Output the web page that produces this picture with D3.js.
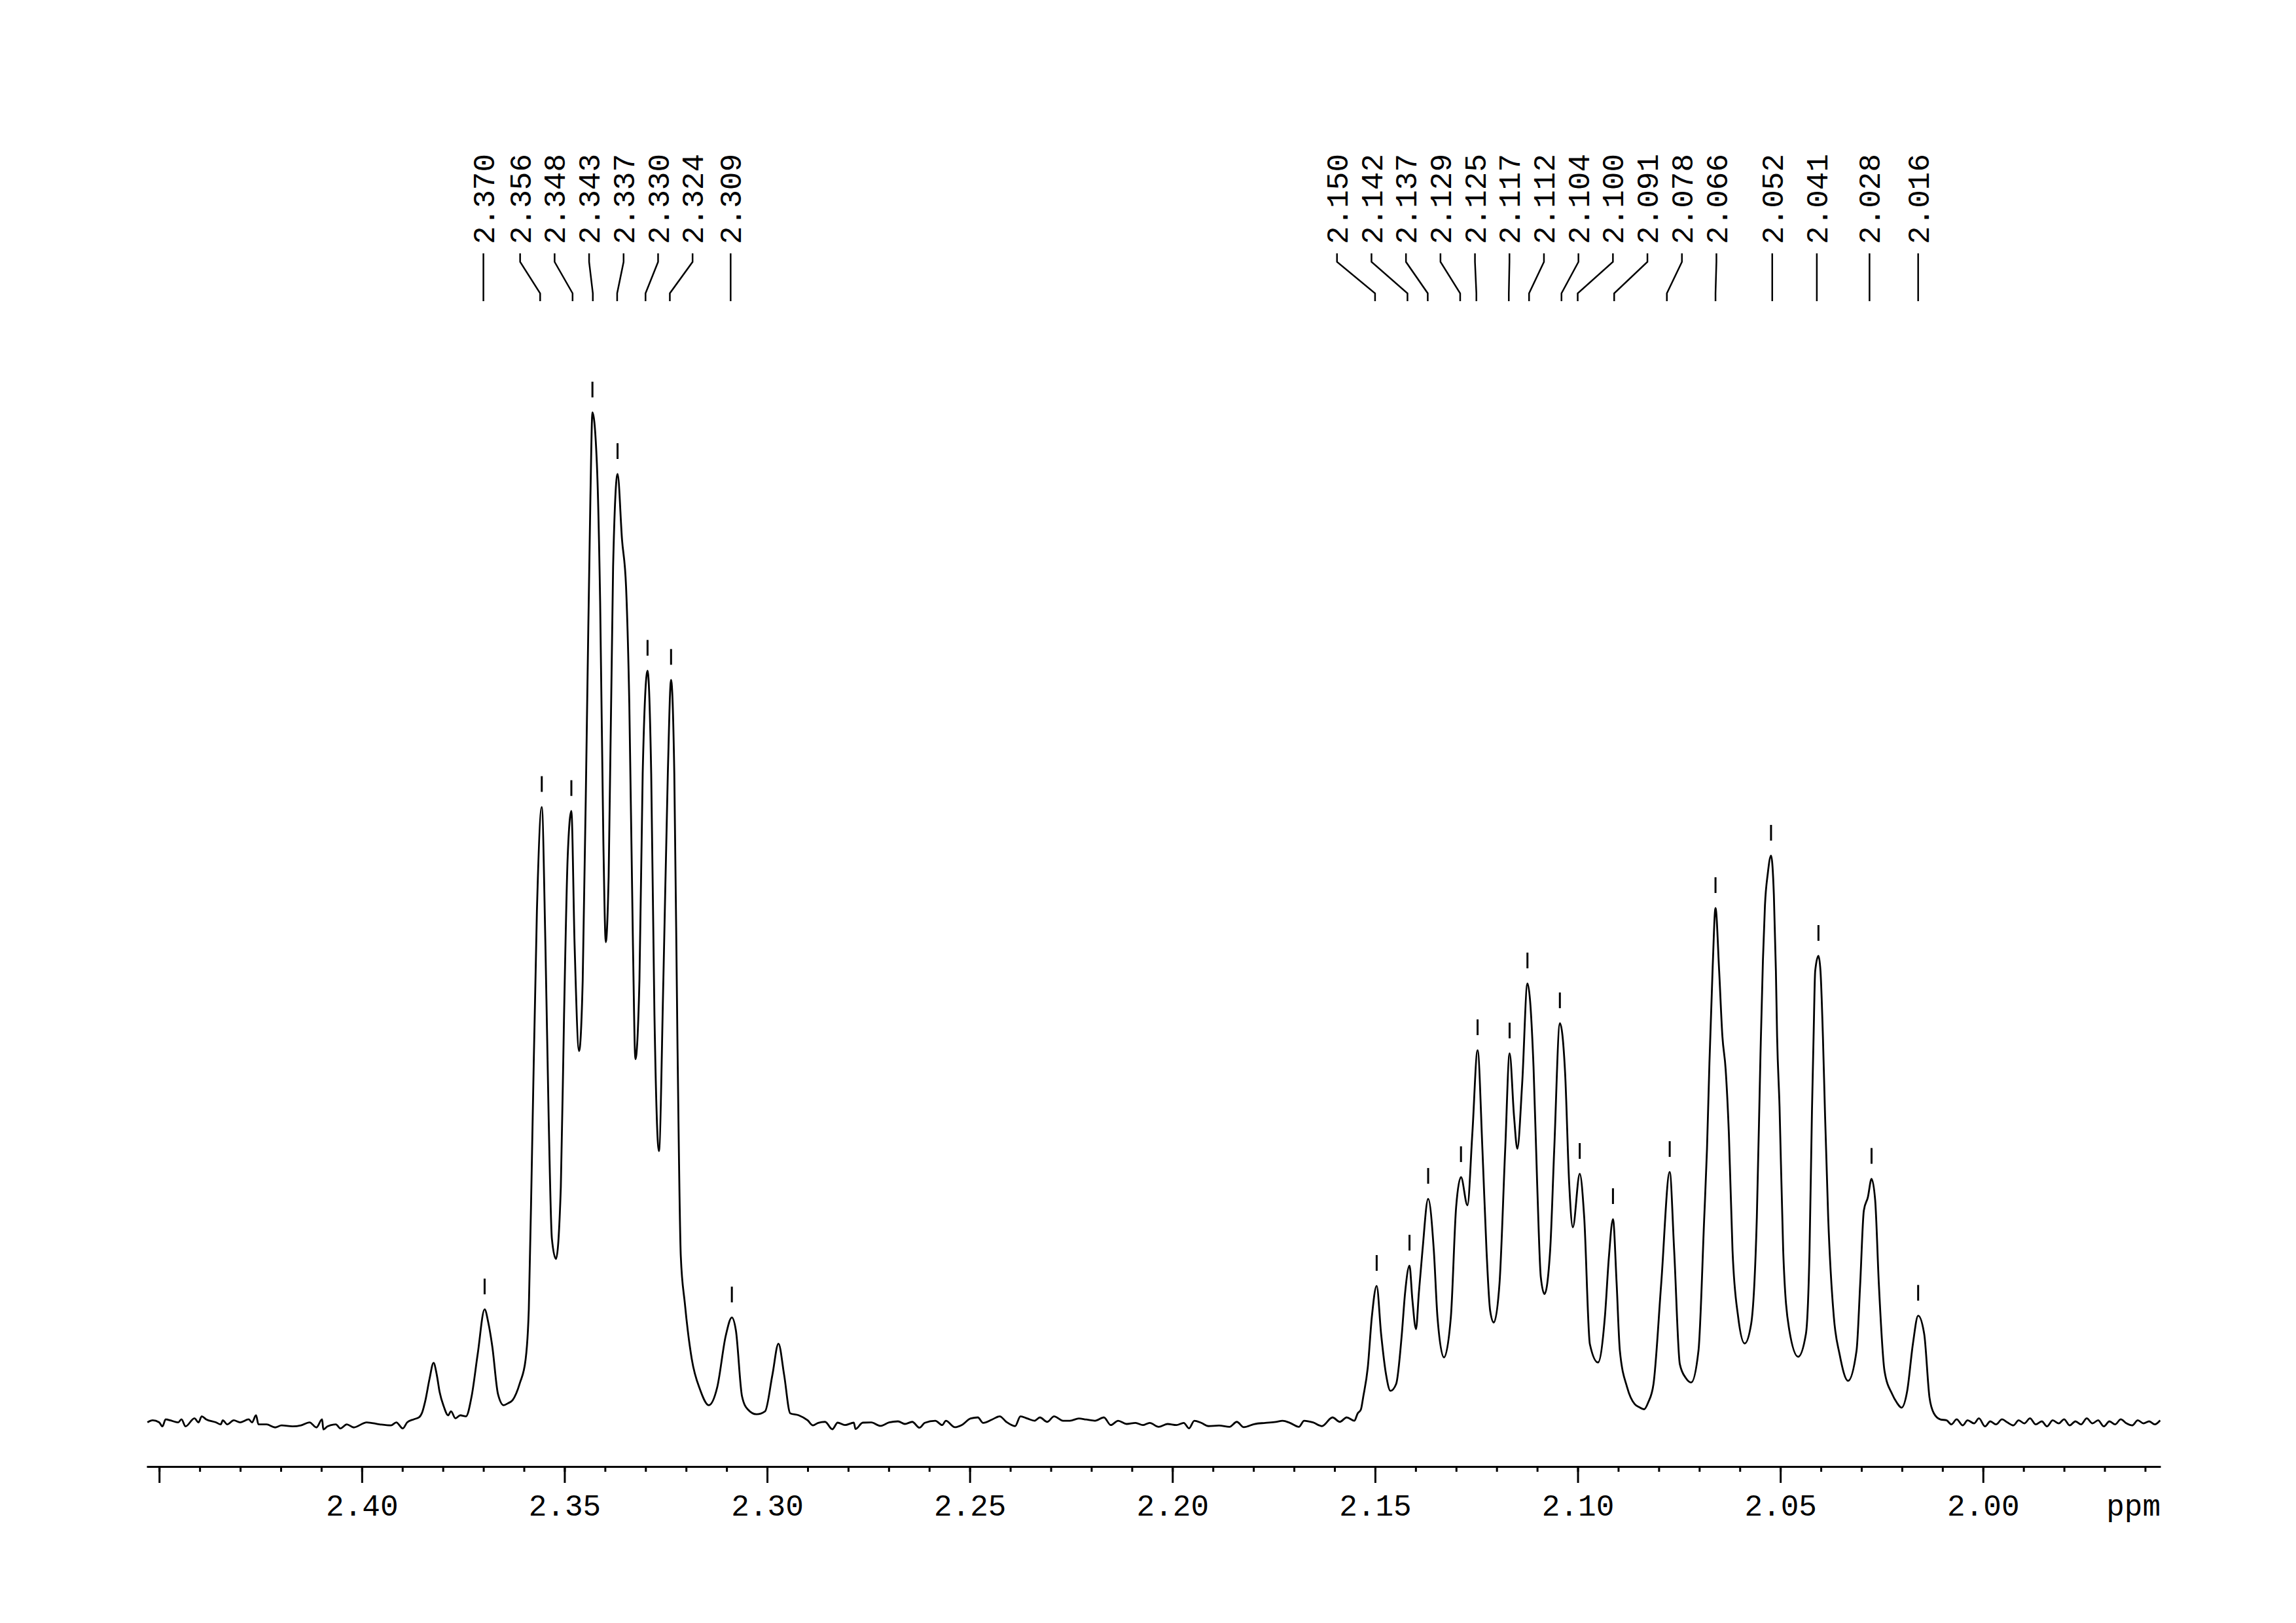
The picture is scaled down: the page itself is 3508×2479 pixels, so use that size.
<!DOCTYPE html>
<html>
<head>
<meta charset="utf-8">
<script src="https://cdn.jsdelivr.net/npm/d3@7/dist/d3.min.js"></script>
<style>
  body { margin: 0; background: #fff; }
  text { font-family: "Liberation Mono", "DejaVu Sans Mono", monospace; font-size: 46px; fill: #000; }
</style>
</head>
<body>
<script>
// spectrum: [ppm, intensity], tallest line = 100
var baselineLeft = [
  [2.4529,-0.1],[2.4516,0.1],[2.4500,-0.1],[2.4492,-0.5],[2.4484,0.2],[2.4473,0.1],[2.4453,-0.1],
  [2.4445,0.2],[2.4435,-0.5],[2.4413,0.3],[2.4403,-0.1],[2.4395,0.5],[2.4384,0.2],[2.4360,-0.1],
  [2.4348,-0.3],[2.4343,0.1],[2.4332,-0.3],[2.4316,0.1],[2.4300,-0.1],[2.4279,0.2],[2.4271,-0.1],
  [2.4261,0.6],[2.4255,-0.3],[2.4235,-0.3],[2.4214,-0.6],[2.4198,-0.4],[2.4171,-0.5],[2.4150,-0.4],
  [2.4129,-0.1],[2.4112,-0.6],[2.4098,0.2],[2.4095,-0.8],[2.4085,-0.5],[2.4064,-0.3],[2.4053,-0.7],
  [2.4037,-0.3],[2.4020,-0.6],[2.3988,-0.1],[2.3956,-0.3],[2.3928,-0.4],[2.3915,-0.1],[2.3899,-0.7],
  [2.3888,-0.1],[2.3872,0.2],[2.3859,0.4]
];
var multipletA = [
  [2.3851,0.9],[2.3843,2.1],[2.3833,4.2],[2.3823,5.8],[2.3815,4.6],[2.3808,2.9],[2.3798,1.5],
  [2.3787,0.6],[2.3780,1.0],[2.3769,0.3],[2.3757,0.6],[2.3743,0.5],[2.3729,2.5],[2.3714,6.7],
  [2.3697,11.1],[2.3688,9.8],[2.3678,7.4],[2.3664,2.7],[2.3650,1.6],[2.3639,1.8],[2.3628,2.1],
  [2.3610,3.8],[2.3596,6.1],[2.3588,11.1],[2.3580,26.7],[2.3568,50.6],[2.3556,60.9],[2.3547,47.2],
  [2.3539,30.1],[2.3531,18.1],[2.3521,16.1],[2.3509,23.2],[2.3501,40.3],[2.3492,56.0],[2.3483,60.5],
  [2.3475,47.2],[2.3464,36.7],[2.3455,43.7],[2.3444,71.1],[2.3436,91.6],[2.3431,100],[2.3420,94.9],
  [2.3412,81.3],[2.3404,57.4],[2.3398,47.5],[2.3391,54.0],[2.3380,84.7],[2.3369,93.9],[2.3358,87.4],
  [2.3348,82.7],[2.3340,71.1],[2.3331,47.2],[2.3325,35.9],[2.3315,43.7],[2.3307,64.2],[2.3295,74.4],
  [2.3286,64.2],[2.3278,40.3],[2.3267,26.8],[2.3256,43.7],[2.3245,64.2],[2.3237,73.5],[2.3229,64.2],
  [2.3221,36.9],[2.3213,16.4],[2.3203,11.7],[2.3186,6.2],[2.3165,3.1],[2.3144,1.6],[2.3123,3.4],
  [2.3102,8.5],[2.3087,10.3],[2.3077,9.0],[2.3062,2.5],[2.3048,1.2],[2.3026,0.7],[2.3005,1.0],
  [2.2987,4.6],[2.2972,7.7],[2.2958,4.6],[2.2943,0.8],[2.2922,0.6],[2.2900,0.1],[2.2887,-0.4]
];
var baselineMid = [
  [2.2874,-0.15],[2.2857,-0.05],[2.2839,-0.78],[2.2826,-0.13],[2.2808,-0.37],[2.2786,-0.13],
  [2.2782,-0.76],[2.2764,-0.13],[2.2743,-0.11],[2.2721,-0.45],[2.2699,-0.11],[2.2677,0],
  [2.2660,-0.26],[2.2642,-0.05],[2.2624,-0.63],[2.2611,-0.15],[2.2585,0.06],[2.2568,-0.37],
  [2.2559,0.06],[2.2537,-0.58],[2.2520,-0.37],[2.2498,0.28],[2.2480,0.39],[2.2467,-0.15],
  [2.2445,0.18],[2.2426,0.50],[2.2410,-0.05],[2.2388,-0.47],[2.2375,0.50],[2.2358,0.28],
  [2.2340,0.06],[2.2327,0.39],[2.2309,-0.05],[2.2292,0.50],[2.2270,0.06],[2.2253,0.06],
  [2.2231,0.28],[2.2213,0.18],[2.2191,0.06],[2.2169,0.39],[2.2152,-0.37],[2.2134,0.06],
  [2.2113,-0.26],[2.2091,-0.15],[2.2073,-0.37],[2.2056,-0.15],[2.2034,-0.54],[2.2012,-0.26],
  [2.1990,-0.37],[2.1972,-0.15],[2.1959,-0.69],[2.1946,0.06],[2.1929,-0.15],[2.1911,-0.47],
  [2.1885,-0.41],[2.1859,-0.54],[2.1841,-0.05],[2.1824,-0.58],[2.1797,-0.26],[2.1771,-0.15],
  [2.1745,-0.05],[2.1728,0.06],[2.1710,-0.15],[2.1688,-0.54],[2.1675,0.06],[2.1653,-0.11],
  [2.1631,-0.47],[2.1605,0.39],[2.1587,-0.05],[2.1570,0.39],[2.1551,0.06]
];
var multipletB = [
  [2.1543,0.78],[2.1535,1.17],[2.1529,2.47],[2.1518,5.32],[2.1508,10.32],[2.1496,13.43],[2.1485,8.63],
  [2.1473,4.67],[2.1462,3.02],[2.1448,3.70],[2.1434,8.63],[2.1426,12.7],[2.1415,15.44],[2.1408,12.1],
  [2.1399,9.15],[2.1392,12.7],[2.1383,16.94],[2.1369,22.06],[2.1355,16.94],[2.1346,10.32],[2.1330,6.33],
  [2.1313,10.32],[2.1300,21.22],[2.1288,24.21],[2.1272,21.41],[2.1260,28.51],[2.1247,36.79],[2.1235,26.87],
  [2.1225,16.94],[2.1216,10.97],[2.1207,9.80],[2.1193,13.63],[2.1179,26.87],[2.1168,36.47],[2.1157,30.18],
  [2.1149,27.02],[2.1137,33.49],[2.1124,43.41],[2.1109,35.13],[2.1100,23.56],[2.1091,14.28],[2.1082,12.62],
  [2.1068,16.94],[2.1058,26.87],[2.1044,39.46],[2.1031,34.46],[2.1021,23.56],[2.1012,19.24],[2.0995,24.53],
  [2.0984,20.25],[2.0970,7.66],[2.0950,5.84],[2.0933,10.32],[2.0923,16.3],[2.0913,20.05],[2.0904,13.7],
  [2.0896,7.01],[2.0878,3.37],[2.0859,1.69],[2.0849,1.43],[2.0836,1.20],[2.0826,1.88],[2.0813,3.70],
  [2.0794,13.63],[2.0773,24.72],[2.0762,16.94],[2.0748,5.67],[2.0733,4.28],[2.0720,3.85],[2.0702,7.01],
  [2.0688,20.0],[2.0681,27.0],[2.0675,35.5],[2.0667,45.0],[2.0660,50.88],[2.0651,44.65],[2.0643,38.16],
  [2.0635,34.91],[2.0627,28.51],[2.0618,16.94],[2.0604,10.32],[2.0588,7.72],[2.0572,9.67],[2.0558,20.25],
  [2.0549,36.4],[2.0543,45.69],[2.0538,51.14],[2.0531,54.3],[2.0523,56.07],[2.0516,52.17],[2.0511,44.65],
  [2.0508,38.16],[2.0502,31.2],[2.0493,16.94],[2.0479,9.31],[2.0456,6.40],[2.0437,8.64],[2.0428,16.94],
  [2.0422,30.76],[2.0418,38.16],[2.0414,44.65],[2.0406,46.14],[2.0401,44.65],[2.0395,38.16],[2.0390,30.76],
  [2.0382,20.25],[2.0368,10.32],[2.0354,6.68],[2.0333,4.02],[2.0312,7.01],[2.0303,13.63],[2.0294,20.90],
  [2.0284,22.22],[2.0275,24.04],[2.0266,21.89],[2.0257,13.63],[2.0243,5.00],[2.0224,2.69],[2.0213,1.88],
  [2.0201,1.36],[2.0187,3.02],[2.0173,7.66],[2.0160,10.47],[2.0145,8.64],[2.0132,2.36],[2.0121,0.78],
  [2.0105,0.19]
];
var baselineRight = [
  [2.0090,0.1],[2.0078,-0.3],[2.0065,0.2],[2.0050,-0.4],[2.0038,0.1],[2.0022,-0.2],[2.0010,0.3],
  [1.9995,-0.5],[1.9982,0.0],[1.9968,-0.3],[1.9953,0.2],[1.9940,-0.1],[1.9925,-0.4],[1.9912,0.1],
  [1.9898,-0.2],[1.9884,0.3],[1.9870,-0.3],[1.9855,0.0],[1.9842,-0.5],[1.9828,0.1],[1.9813,-0.2],
  [1.9800,0.2],[1.9786,-0.4],[1.9772,0.0],[1.9758,-0.3],[1.9744,0.3],[1.9730,-0.2],[1.9716,0.1],
  [1.9702,-0.5],[1.9688,0.0],[1.9674,-0.3],[1.9660,0.2],[1.9646,-0.2],[1.9632,-0.4],[1.9618,0.1],
  [1.9604,-0.2],[1.9590,0.0],[1.9576,-0.3],[1.9563,0.1]
];

var peakLabels = ["2.370","2.356","2.348","2.343","2.337","2.330","2.324","2.309",
  "2.150","2.142","2.137","2.129","2.125","2.117","2.112","2.104","2.100","2.091",
  "2.078","2.066","2.052","2.041","2.028","2.016"];

var majorTicks = [2.45, 2.40, 2.35, 2.30, 2.25, 2.20, 2.15, 2.10, 2.05, 2.00];
var tickLabels = ["", "2.40", "2.35", "2.30", "2.25", "2.20", "2.15", "2.10", "2.05", "2.00"];
var minorTicks = [2.45,2.44,2.43,2.42,2.41,2.40,2.39,2.38,2.37,2.36,2.35,2.34,2.33,2.32,2.31,
  2.30,2.29,2.28,2.27,2.26,2.25,2.24,2.23,2.22,2.21,2.20,2.19,2.18,2.17,2.16,2.15,2.14,2.13,
  2.12,2.11,2.10,2.09,2.08,2.07,2.06,2.05,2.04,2.03,2.02,2.01,2.00,1.99,1.98,1.97,1.96];

var spectrum = baselineLeft.concat(multipletA, baselineMid, multipletB, baselineRight);

var width = 3508, height = 2479;
var axisY = 2240;
var labelGap = 52.7;

var svg = d3.select("body")
            .append("svg")
            .attr("width", width)
            .attr("height", height)
            .style("background", "#fff");

var xScale = d3.scaleLinear()
               .domain([2.4531, 1.9562])
               .range([224, 3301]);

var yScale = d3.scaleLinear()
               .domain([0, 100])
               .range([2171, 630]);

// the trace
var line = d3.line()
             .x(function(d){ return xScale(d[0]); })
             .y(function(d){ return yScale(d[1]); })
             .curve(d3.curveMonotoneX);

svg.append("path")
   .datum(spectrum)
   .attr("d", line)
   .attr("fill", "none")
   .attr("stroke", "#000")
   .attr("stroke-width", 2.8)
   .attr("stroke-linejoin", "round");

// minor ticks
var minorAxis = d3.axisBottom(xScale)
                  .tickValues(minorTicks)
                  .tickSize(8)
                  .tickSizeOuter(0)
                  .tickFormat("");

var gMinor = svg.append("g")
   .attr("transform", "translate(0," + axisY + ")")
   .call(minorAxis);
gMinor.select(".domain").remove();
gMinor.selectAll("line").attr("stroke-width", 3);

// major ticks + labels
var majorAxis = d3.axisBottom(xScale)
                  .tickValues(majorTicks)
                  .tickSize(25)
                  .tickSizeOuter(0)
                  .tickFormat(function(d, i){ return tickLabels[i]; });

var gMajor = svg.append("g")
   .attr("transform", "translate(0," + axisY + ")")
   .call(majorAxis);
gMajor.select(".domain").attr("stroke-width", 3.2);
gMajor.selectAll("line").attr("stroke-width", 3);
gMajor.selectAll("text").attr("y", 75).attr("dy", null);

svg.append("text")
   .attr("x", 3301)
   .attr("y", axisY + 75)
   .attr("text-anchor", "end")
   .text("ppm");

// spread peak labels so they don't collide
function spreadLabels(xs, gap) {
  var groups = xs.map(function(x, i){ return {idx: [i], sum: x}; });
  function ends(g) {
    var c = g.sum / g.idx.length, half = (g.idx.length - 1) * gap / 2;
    return [c - half, c + half];
  }
  var changed = true;
  while (changed) {
    changed = false;
    for (var i = 0; i < groups.length - 1; i++) {
      if (ends(groups[i])[1] + gap > ends(groups[i + 1])[0]) {
        groups[i].idx = groups[i].idx.concat(groups[i + 1].idx);
        groups[i].sum += groups[i + 1].sum;
        groups.splice(i + 1, 1);
        changed = true;
        break;
      }
    }
  }
  var out = [];
  groups.forEach(function(g){
    var s = ends(g)[0];
    g.idx.forEach(function(k, j){ out[k] = s + j * gap; });
  });
  return out;
}

var peakX = peakLabels.map(function(p){ return xScale(+p); });
var labelX = spreadLabels(peakX, labelGap);

var labels = svg.append("g").attr("class", "peak-labels");

labels.selectAll("path")
  .data(peakLabels)
  .enter()
  .append("path")
  .attr("d", function(d, i){
    return "M" + labelX[i] + ",387V400L" + peakX[i] + ",448V460";
  })
  .attr("fill", "none")
  .attr("stroke", "#000")
  .attr("stroke-width", 2.5);

labels.selectAll("text")
  .data(peakLabels)
  .enter()
  .append("text")
  .attr("transform", function(d, i){ return "translate(" + labelX[i] + ",373) rotate(-90)"; })
  .attr("dy", "0.35em")
  .text(function(d){ return d; });

// little bars above each picked peak
var picked = peakLabels.map(function(p){
  var v = +p;
  var near = spectrum.filter(function(d){ return Math.abs(d[0] - v) <= 0.0012; });
  return near.reduce(function(a, b){ return b[1] > a[1] ? b : a; });
});

svg.append("g")
  .selectAll("line")
  .data(picked)
  .enter()
  .append("line")
  .attr("x1", function(d){ return xScale(d[0]); })
  .attr("x2", function(d){ return xScale(d[0]); })
  .attr("y1", function(d){ return yScale(d[1]) - 47; })
  .attr("y2", function(d){ return yScale(d[1]) - 23; })
  .attr("stroke", "#000")
  .attr("stroke-width", 3);
</script>
</body>
</html>
